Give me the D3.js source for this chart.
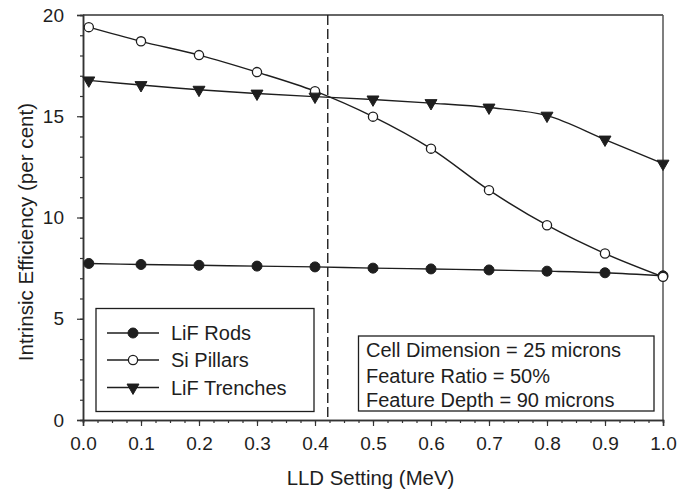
<!DOCTYPE html>
<html>
<head>
<meta charset="utf-8">
<script src="https://cdn.jsdelivr.net/npm/d3@7"></script>
<style>
  html, body { margin: 0; padding: 0; background: #fff; }
  svg { display: block; font-family: "Liberation Sans", Arial, sans-serif; }
</style>
</head>
<body>
<svg id="chart" width="692" height="492"></svg>
<script>
// LLD threshold settings (MeV)
const lld = [0.01, 0.1, 0.2, 0.3, 0.4, 0.5, 0.6, 0.7, 0.8, 0.9, 1.0];

// Intrinsic efficiency (per cent) for each detector geometry
const lifRods     = [7.73, 7.68, 7.64, 7.60, 7.56, 7.50, 7.46, 7.41, 7.35, 7.27, 7.12];
const siPillars   = [19.40, 18.70, 18.02, 17.18, 16.24, 14.98, 13.40, 11.35, 9.62, 8.22, 7.07];
const lifTrenches = [16.77, 16.54, 16.31, 16.12, 15.97, 15.83, 15.65, 15.43, 15.03, 13.85, 12.66];

const seriesNames = ["LiF Rods", "Si Pillars", "LiF Trenches"];
const seriesMarkers = ["filled", "open", "triangle"];

const xTicks = [0.0, 0.1, 0.2, 0.3, 0.4, 0.5, 0.6, 0.7, 0.8, 0.9, 1.0];
const yTicks = [0, 5, 10, 15, 20];
const cutoffLine = 0.422;

const infoLines = [
  "Cell Dimension = 25 microns",
  "Feature Ratio = 50%",
  "Feature Depth = 90 microns"
];

const svg = d3.select("#chart");
const plotLeft = 83, plotRight = 663, plotTop = 15, plotBottom = 420;
const ink = "#1e1e1e";

const x = d3.scaleLinear().domain([0, 1]).range([plotLeft, plotRight]);
const y = d3.scaleLinear().domain([0, 20]).range([plotBottom, plotTop]);

// frame (top and right)
svg.append("line").attr("x1", plotLeft).attr("x2", plotRight).attr("y1", plotTop).attr("y2", plotTop)
  .attr("stroke", "#333").attr("stroke-width", 1.3);
svg.append("line").attr("x1", plotRight).attr("x2", plotRight).attr("y1", plotTop).attr("y2", plotBottom)
  .attr("stroke", "#555").attr("stroke-width", 1.5);

// x axis: major ticks with labels, minor ticks every 0.025
const xMinor = d3.range(0, 1.0001, 0.025);
const xAxisMinor = d3.axisBottom(x).tickValues(xMinor).tickSize(3).tickFormat("");
const gxm = svg.append("g").attr("transform", `translate(0,${plotBottom})`).call(xAxisMinor);
const xAxis = d3.axisBottom(x).tickValues(xTicks).tickSize(6).tickPadding(14)
  .tickFormat(d3.format(".1f"));
const gx = svg.append("g").attr("transform", `translate(0,${plotBottom})`).call(xAxis);

// y axis: major ticks with labels, minor ticks every 1
const yMinor = d3.range(0, 20.001, 1);
const yAxisMinor = d3.axisLeft(y).tickValues(yMinor).tickSize(3).tickFormat("");
const gym = svg.append("g").attr("transform", `translate(${plotLeft},0)`).call(yAxisMinor);
const yAxis = d3.axisLeft(y).tickValues(yTicks).tickSize(6).tickPadding(13)
  .tickFormat(d3.format("d"));
const gy = svg.append("g").attr("transform", `translate(${plotLeft},0)`).call(yAxis);

[gxm, gx, gym, gy].forEach(g => {
  g.select(".domain").attr("stroke", "#333").attr("stroke-width", 1.5);
  g.selectAll(".tick line").attr("stroke", "#333").attr("stroke-width", 1.2);
  g.selectAll(".tick text").attr("fill", ink).style("font-size", "19px")
    .style("font-family", "'Liberation Sans', Arial, sans-serif");
});
gx.selectAll(".tick text").attr("dy", "0.5em");

// axis titles
svg.append("text").attr("x", 370.5).attr("y", 484.5)
  .attr("text-anchor", "middle").attr("fill", ink).style("font-size", "20.4px")
  .text("LLD Setting (MeV)");
svg.append("text")
  .attr("transform", `translate(33,232) rotate(-90)`)
  .attr("text-anchor", "middle").attr("fill", ink).style("font-size", "20.6px")
  .text("Intrinsic Efficiency (per cent)");

// vertical dashed cutoff
svg.append("line").attr("x1", x(cutoffLine)).attr("x2", x(cutoffLine))
  .attr("y1", plotTop).attr("y2", plotBottom)
  .attr("stroke", ink).attr("stroke-width", 1.4).attr("stroke-dasharray", "10,4");

// curves
const line = d3.line().x(d => x(d[0])).y(d => y(d[1])).curve(d3.curveCatmullRom.alpha(0.5));
const allSeries = [lifRods, siPillars, lifTrenches];
allSeries.forEach(vals => {
  const pts = lld.map((v, i) => [v, vals[i]]);
  svg.append("path").datum(pts).attr("d", line)
    .attr("fill", "none").attr("stroke", ink).attr("stroke-width", 1.4);
});

// markers
const tri = d3.symbol().type(d3.symbolTriangle).size(62);
function drawMarker(g, kind, cx, cy) {
  if (kind === "filled") {
    g.append("circle").attr("cx", cx).attr("cy", cy).attr("r", 5)
      .attr("fill", ink).attr("stroke", ink).attr("stroke-width", 1);
  } else if (kind === "open") {
    g.append("circle").attr("cx", cx).attr("cy", cy).attr("r", 4.6)
      .attr("fill", "#fff").attr("stroke", ink).attr("stroke-width", 1.3);
  } else {
    g.append("path").attr("d", tri)
      .attr("transform", `translate(${cx},${cy}) rotate(180)`)
      .attr("fill", ink).attr("stroke", ink).attr("stroke-width", 1);
  }
}
const markerLayer = svg.append("g");
allSeries.forEach((vals, si) => {
  lld.forEach((v, i) => drawMarker(markerLayer, seriesMarkers[si], x(v), y(vals[i])));
});

// legend
const lg = svg.append("g");
lg.append("rect").attr("x", 96).attr("y", 308.5).attr("width", 218).attr("height", 103)
  .attr("fill", "#fff").attr("stroke", ink).attr("stroke-width", 1.3);
const legendRows = [333, 360, 387.5];
seriesNames.forEach((name, i) => {
  const ry = legendRows[i];
  lg.append("line").attr("x1", 107).attr("x2", 159).attr("y1", ry).attr("y2", ry)
    .attr("stroke", ink).attr("stroke-width", 1.4);
  drawMarker(lg, seriesMarkers[i], 133, ry);
  lg.append("text").attr("x", 171).attr("y", ry + 7).attr("fill", ink)
    .style("font-size", "20px").text(name);
});

// parameter box
const ib = svg.append("g");
ib.append("rect").attr("x", 358.5).attr("y", 336).attr("width", 295.5).attr("height", 75)
  .attr("fill", "#fff").attr("stroke", ink).attr("stroke-width", 1.3);
const infoBase = [357, 382.5, 406.5];
infoLines.forEach((t, i) => {
  ib.append("text").attr("x", 366).attr("y", infoBase[i]).attr("fill", ink)
    .style("font-size", "20px").text(t);
});
</script>
</body>
</html>
